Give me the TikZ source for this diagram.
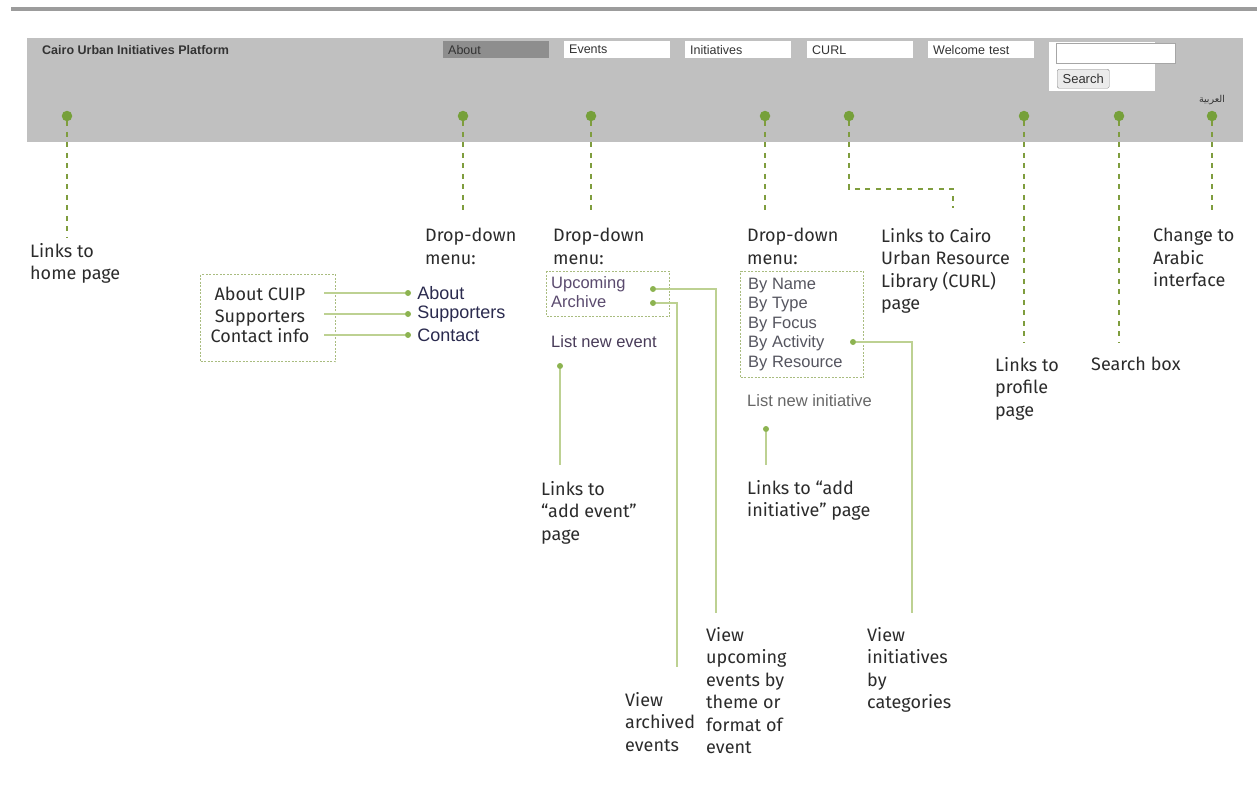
\documentclass[tikz,border=0pt]{standalone}
\usepackage{fontspec}
\setmainfont{Fira Sans}
\newfontfamily\webfont{Liberation Sans}
\newfontfamily\arabicfont[Script=Arabic]{DejaVu Sans}
\TeXXeTstate=1
\usetikzlibrary{positioning}

\definecolor{topgray}{HTML}{9C9C9C}
\definecolor{headgray}{HTML}{C0C0C0}
\definecolor{tabdark}{HTML}{8E8E8E}
\definecolor{tabtext}{HTML}{333333}
\definecolor{pingreen}{HTML}{76A03A}
\definecolor{dashgreen}{HTML}{7F9D3E}
\definecolor{linkgreen}{HTML}{BDD192}
\definecolor{dotgreen}{HTML}{8CB350}
\definecolor{boxgreen}{HTML}{A9BC7F}
\definecolor{notegray}{HTML}{2B2B2B}
\definecolor{navytext}{HTML}{2A2A4E}
\definecolor{plumtext}{HTML}{5A4A6E}
\definecolor{itemgray}{HTML}{55555F}

\tikzset{
  pinhead/.style={circle, fill=pingreen, inner sep=0pt, minimum size=10.5pt},
  guide/.style={draw=dashgreen, line width=2pt, dash pattern=on 5pt off 5.5pt},
  link/.style={draw=linkgreen, line width=1.4pt},
  linkdot/.style={circle, fill=dotgreen, inner sep=0pt, minimum size=6pt},
  dbox/.style={draw=boxgreen, line width=1pt, dash pattern=on 2pt off 1.5pt,
    inner sep=0pt, anchor=north west},
  note/.style={anchor=north west, inner sep=0pt, align=left, text=notegray,
    font=\fontsize{18}{22.5}\selectfont},
  boxtext/.style={anchor=base, inner sep=0pt, text=notegray,
    font=\fontsize{18}{22}\selectfont},
  tab/.style={anchor=north west, fill=white, minimum height=17pt, text width=96pt,
    inner xsep=5pt, inner ysep=0pt, text=tabtext,
    font=\webfont\fontsize{12.5}{13}\selectfont},
  item/.style={anchor=base west, inner sep=0pt,
    font=\webfont\fontsize{16.5}{18}\selectfont},
  menu/.style={right=6pt of #1, inner sep=0pt, text=navytext,
    font=\webfont\fontsize{18}{20}\selectfont},
}

\begin{document}
\begin{tikzpicture}[x=1pt, y=-1pt]
		%%%%% START %%%%%
		\useasboundingbox (0, 0) rectangle (1257, 785);
		
		% page header
		\fill[topgray] (11, 7) rectangle (1257, 11);
		\fill[headgray] (27, 38) rectangle (1243, 142);
		\node[anchor=west, inner sep=0pt, text=tabtext, font=\webfont\bfseries\fontsize{12.5}{13}\selectfont] (title) at (42, 50) {Cairo Urban Initiatives Platform};
		
		\node[tab, fill=tabdark] (tAbout) at (443, 41) {About};
		\node[tab] (tEvents) at (564, 41) {Events};
		\node[tab] (tInit) at (685, 41) {Initiatives};
		\node[tab] (tCurl) at (807, 41) {CURL};
		\node[tab] (tWelcome) at (928, 41) {Welcome test};
		
		\fill[white] (1049, 42) rectangle (1155, 91);
		\node[anchor=north west, draw=black!35, fill=white, inner sep=0pt, minimum width=119pt, minimum height=20pt] (sInput) at (1056, 43) {};
		\node[anchor=north west, draw=black!45, fill=black!8, rounded corners=1.5pt, inner sep=0pt, minimum width=52pt, minimum height=19pt, text=tabtext, font=\webfont\fontsize{13}{14}\selectfont] (sButton) at (1057, 69) {Search};
		\node[inner sep=0pt, text=tabtext, font=\arabicfont\fontsize{9.5}{10}\selectfont] (arLink) at (1212, 100) {\beginR العربية\endR};
		
		% pins on the header
		\node[pinhead] (pHome) at (67, 116) {};
		\node[pinhead] (pAbout) at (463, 116) {};
		\node[pinhead] (pEvents) at (591, 116) {};
		\node[pinhead] (pInit) at (765, 116) {};
		\node[pinhead] (pCurl) at (849, 116) {};
		\node[pinhead] (pProfile) at (1024, 116) {};
		\node[pinhead] (pSearch) at (1119, 116) {};
		\node[pinhead] (pArabic) at (1212, 116) {};
		
		% notes
		\node[note] (lHome) at (30, 243) {Links to\\home page};
		\node[note] (lAbout) at (425, 228) {Drop-down\\menu:};
		\node[note] (lEvents) at (553, 228) {Drop-down\\menu:};
		\node[note] (lInit) at (747, 228) {Drop-down\\menu:};
		\node[note] (lCurl) at (881, 228) {Links to Cairo\\Urban Resource\\Library (CURL)\\page};
		\node[note] (lArabic) at (1153, 228) {Change to\\Arabic\\interface};
		\node[note] (lProfile) at (995, 357) {Links to\\profile\\page};
		\node[note] (lSearch) at (1091, 357) {Search box};
		\node[note] (lAddEvent) at (541, 481) {Links to\\“add event”\\page};
		\node[note] (lAddInit) at (747, 480) {Links to “add\\initiative” page};
		\node[note] (lArchived) at (625, 692) {View\\archived\\events};
		\node[note] (lUpcoming) at (706, 627) {View\\upcoming\\events by\\theme or\\format of\\event};
		\node[note] (lCategories) at (867, 627) {View\\initiatives\\by\\categories};
		
		% dashed guides
		\coordinate (eHome) at (67, 237);
		\coordinate (eAbout) at (463, 215);
		\coordinate (eEvents) at (591, 215);
		\coordinate (eInit) at (765, 215);
		\coordinate (kCurl) at (953, 189);
		\coordinate (eCurl) at (953, 208);
		\coordinate (eProfile) at (1024, 343);
		\coordinate (eSearch) at (1119, 343);
		\coordinate (eArabic) at (1212, 215);
		\draw[guide] (pHome.south) -- (eHome);
		\draw[guide] (pAbout.south) -- (eAbout);
		\draw[guide] (pEvents.south) -- (eEvents);
		\draw[guide] (pInit.south) -- (eInit);
		\draw[guide] (pCurl.south) |- (kCurl) -- (eCurl);
		\draw[guide] (pProfile.south) -- (eProfile);
		\draw[guide] (pSearch.south) -- (eSearch);
		\draw[guide] (pArabic.south) -- (eArabic);
		
		% about menu
		\node[dbox, minimum width=135pt, minimum height=87pt] (aboutBox) at (200, 274) {};
		\node[boxtext] (bCuip) at (260, 300) {About CUIP};
		\node[boxtext] (bSupp) at (260, 322) {Supporters};
		\node[boxtext] (bCont) at (260, 342) {Contact info};
		\node[linkdot] (dAbout) at (408, 293) {};
		\node[linkdot] (dSupp) at (408, 314) {};
		\node[linkdot] (dCont) at (408, 335) {};
		\draw[link] ([xshift=-12pt]aboutBox.east |- dAbout) -- (dAbout);
		\draw[link] ([xshift=-12pt]aboutBox.east |- dSupp) -- (dSupp);
		\draw[link] ([xshift=-12pt]aboutBox.east |- dCont) -- (dCont);
		\node[menu=dAbout] (mAbout) {About};
		\node[menu=dSupp] (mSupp) {Supporters};
		\node[menu=dCont] (mCont) {Contact};
		
		% events menu
		\node[dbox, minimum width=123pt, minimum height=45pt] (eventBox) at (546, 271) {};
		\node[item, text=plumtext] (iUpcoming) at (551, 288) {Upcoming};
		\node[item, text=plumtext] (iArchive) at (551, 307) {Archive};
		\node[item, text=plumtext!80!black] (iNewEvent) at (551, 347) {List new event};
		\node[linkdot] (dUpcoming) at (653, 289) {};
		\node[linkdot] (dArchive) at (653, 303) {};
		\node[linkdot] (dNewEvent) at (560, 366) {};
		\coordinate (eUpcoming) at (716, 613);
		\coordinate (eArchive) at (677, 667);
		\coordinate (eNewEvent) at (560, 465);
		\draw[link] (dUpcoming) -| (eUpcoming);
		\draw[link] (dArchive) -| (eArchive);
		\draw[link] (dNewEvent) -- (eNewEvent);
		
		% initiatives menu
		\node[dbox, minimum width=123pt, minimum height=106pt] (initBox) at (740, 271) {};
		\node[item, text=itemgray] (iName) at (748, 289) {By Name};
		\node[item, text=itemgray] (iType) at (748, 308.5) {By Type};
		\node[item, text=itemgray] (iFocus) at (748, 328) {By Focus};
		\node[item, text=itemgray] (iActivity) at (748, 347.5) {By Activity};
		\node[item, text=itemgray] (iResource) at (748, 367) {By Resource};
		\node[item, text=black!60] (iNewInit) at (747, 406) {List new initiative};
		\node[linkdot] (dActivity) at (853, 342) {};
		\node[linkdot] (dNewInit) at (766, 429) {};
		\coordinate (eActivity) at (912, 613);
		\coordinate (eNewInit) at (766, 465);
		\draw[link] (dActivity) -| (eActivity);
		\draw[link] (dNewInit) -- (eNewInit);
		
		%%%%% END %%%%%
	\end{tikzpicture}
\end{document}
